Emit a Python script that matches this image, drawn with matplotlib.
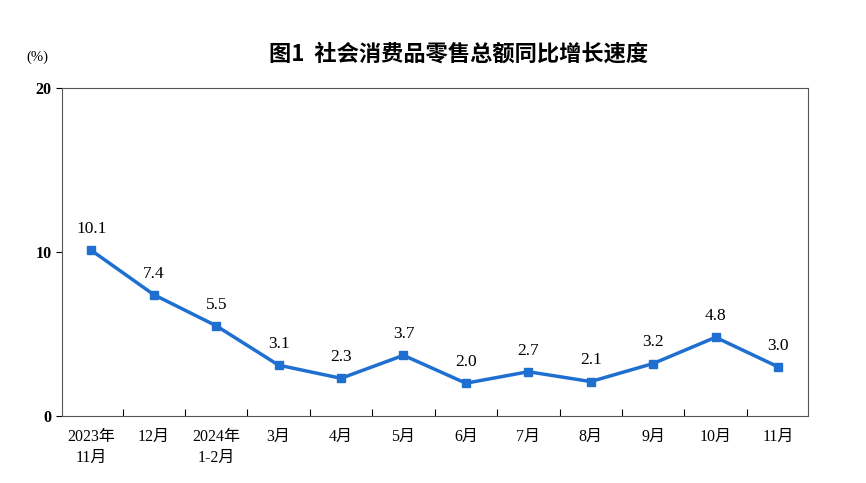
import matplotlib
matplotlib.use("Agg")
import matplotlib.pyplot as plt
from matplotlib.font_manager import FontProperties

categories = ["2023年\n11月", "12月", "2024年\n1-2月", "3月", "4月", "5月", "6月", "7月", "8月", "9月", "10月", "11月"]
values = [10.1, 7.4, 5.5, 3.1, 2.3, 3.7, 2.0, 2.7, 2.1, 3.2, 4.8, 3.0]
yticks = [0, 10, 20]

cjk = FontProperties(family=["Liberation Serif", "Noto Sans CJK SC"], size=11.5)
serif = FontProperties(family="Liberation Serif", size=12.5)

fig = plt.figure(figsize=(8.66, 4.83), dpi=100)
ax = fig.add_axes([0.0716, 0.1387, 0.8614, 0.6791])
x = list(range(len(values)))
color = "#1f6fd0"
ax.plot(x, values, color=color, lw=2.5, marker="s", markersize=6)
for xi, v in zip(x, values):
    ax.text(xi, v + 0.8, f"{v:.1f}", ha="center", va="bottom", fontproperties=serif)
ax.set_xlim(-0.47, len(values) - 0.52)
ax.set_ylim(0, 20)
ax.set_yticks(yticks)
ax.set_yticklabels([str(t) for t in yticks], fontproperties=FontProperties(family="Liberation Serif", size=11.5, weight="bold"))
ax.set_xticks([i + 0.5 for i in range(len(values) - 1)])
ax.set_xticklabels([])
ax.tick_params(axis="x", direction="in", length=5)
ax.tick_params(axis="y", direction="out", length=4)
for xi, c in zip(x, categories):
    ax.text(xi, -0.8, c, ha="center", va="top", fontproperties=cjk, linespacing=1.4)
for s in ax.spines.values():
    s.set_color("#555555")
fig.text(0.03, 0.875, "(%)", fontproperties=FontProperties(family="Liberation Serif", size=10.5))
fig.text(0.53, 0.875, "图1  社会消费品零售总额同比增长速度", ha="center",
         fontproperties=FontProperties(family="Noto Sans CJK SC", size=16, weight="bold"))
fig.savefig("out.png", dpi=100)
